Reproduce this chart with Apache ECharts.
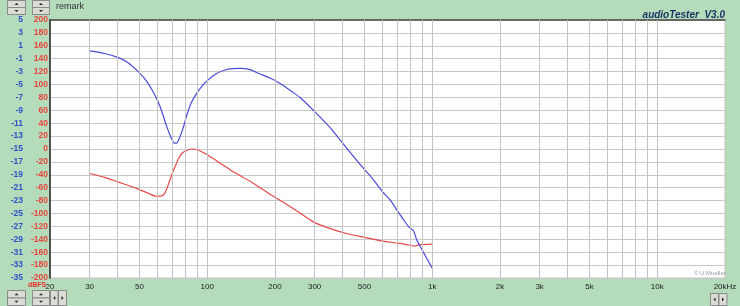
<!DOCTYPE html>
<html><head><meta charset="utf-8">
<script src="https://cdn.jsdelivr.net/npm/echarts@6/dist/echarts.min.js"></script>
<style>html,body{margin:0;padding:0;background:#b4dcbb;}#c{width:740px;height:306px;}</style>
</head><body><div id="c"></div>
<script>
// Blue curve (dB, left blue scale)
const blueFreq = [30,35,40,44,50,54,58,62,66,69,71.5,73,75,78,81,85,90,95,100,110,120,130,140,155,170,190,210,240,260,300,350,400,450,500,540,600,650,700,750,783,800,824,840,853,900,950,1000];
const blueDb   = [0.2,-0.2,-0.8,-1.5,-3.2,-4.6,-6.4,-8.6,-11.5,-13.2,-14.1,-14.1,-13.4,-11.8,-9.8,-7.8,-6.3,-5.2,-4.4,-3.3,-2.75,-2.55,-2.5,-2.7,-3.3,-4.0,-4.8,-6.2,-7.1,-9.2,-11.6,-14.1,-16.3,-18.2,-19.5,-21.6,-22.9,-24.6,-26.1,-27.0,-27.3,-27.6,-28.4,-29.1,-30.6,-32.1,-33.5];
// Red curve (red scale)
const redFreq = [30,35,40,45,50,55,59,62,64,65.5,67,69.5,72,74.5,77,80,85,91,100,112,130,157,190,221,250,296,350,416,500,586,700,780,838,860,882,1000];
const redVals = [-38,-44,-51,-57,-63,-69,-73,-73,-71,-65,-56,-40,-27,-15,-7,-3,0,-1.5,-9,-20,-35,-51,-70,-84,-96,-113,-123,-131,-137,-142,-146,-148.5,-150.5,-149,-148.4,-147.5];
// Vertical grid lines and frequency labels
const gridFreqs = [30,40,50,60,70,80,90,100,200,300,400,500,600,700,800,900,1000,2000,3000,4000,5000,6000,7000,8000,9000,10000];
const labelFreqs = [20,30,50,100,200,300,500,1000,2000,3000,5000,10000,20000];
const labelTexts = ['20','30','50','100','200','300','500','1k','2k','3k','5k','10k','20kHz'];

const chart = echarts.init(document.getElementById('c'));
const FONT = '"Liberation Sans", Arial, sans-serif';

const markData = gridFreqs.map(f => ({xAxis: f}));

function btn(x, y, w, h, dir) {
  const cx = x + w / 2, cy = y + h / 2;
  let pts;
  if (dir === 'up') pts = [[cx - 2, cy + 1], [cx + 2, cy + 1], [cx, cy - 1]];
  else if (dir === 'down') pts = [[cx - 2, cy - 1], [cx + 2, cy - 1], [cx, cy + 1]];
  else if (dir === 'left') pts = [[cx + 1, cy - 2], [cx + 1, cy + 2], [cx - 1, cy]];
  else pts = [[cx - 1, cy - 2], [cx - 1, cy + 2], [cx + 1, cy]];
  return [
    {type: 'rect', shape: {x: x, y: y, width: w, height: h}, style: {fill: '#dcdcd6', stroke: '#8a8a8a', lineWidth: 1}},
    {type: 'polygon', shape: {points: pts}, style: {fill: '#222'}}
  ];
}
const graphics = [].concat(
  btn(7.5, 0.5, 18, 7, 'up'), btn(7.5, 7.5, 18, 7, 'down'),
  btn(32.5, 0.5, 17, 7, 'up'), btn(32.5, 7.5, 17, 7, 'down'),
  btn(7.5, 290.5, 18, 7.5, 'up'), btn(7.5, 298, 18, 7.5, 'down'),
  btn(32.5, 290.5, 17, 7.5, 'up'), btn(32.5, 298, 17, 7.5, 'down'),
  btn(50.5, 290.5, 7.5, 15, 'left'), btn(58.5, 290.5, 8, 15, 'right'),
  btn(710.5, 293.5, 8, 12, 'left'), btn(719, 293.5, 8, 12, 'right'),
  [
    {type: 'text', left: 56, top: 2, style: {text: 'remark', fill: '#333', font: '9px ' + FONT}},
    {type: 'text', left: 28, top: 282, style: {text: 'dBFS', fill: '#e8302c', font: 'bold 7px ' + FONT}},
    {type: 'text', left: 694, top: 270, style: {text: '\u00a9 U.Mueller', fill: '#9a9a9a', font: '6px ' + FONT}}
  ]
);

chart.setOption({
  backgroundColor: '#b4dcbb',
  animation: false,
  title: {text: 'audioTester  V3.0', right: 10, top: 5,
    textStyle: {color: '#1e3264', fontSize: 10, fontStyle: 'italic', fontWeight: 'bold', fontFamily: FONT}},
  grid: {left: 50, right: 15, top: 20, bottom: 28, show: true, backgroundColor: '#ffffff', borderColor: '#c4c4c4', borderWidth: 1},
  xAxis: [
    {type: 'log', logBase: 10, min: 20, max: 20000, axisLine: {show: false, onZero: false}, axisTick: {show: false},
      axisLabel: {show: true, customValues: labelFreqs, showMinLabel: true, showMaxLabel: true, margin: 5,
        color: '#222', fontSize: 8, fontFamily: FONT,
        formatter: v => { const i = labelFreqs.findIndex(f => Math.abs(f - v) / f < 1e-6); return i >= 0 ? labelTexts[i] : ''; }},
      splitLine: {show: false}},
    {type: 'log', logBase: 10, min: 20, max: 20000, position: 'top', axisLine: {show: true, onZero: false, lineStyle: {color: '#454545', width: 1.5}}, axisTick: {show: false}, axisLabel: {show: false}, splitLine: {show: false}}
  ],
  yAxis: [
    {type: 'value', min: -200, max: 200, interval: 20, position: 'left',
      axisLine: {show: true, onZero: false, lineStyle: {color: '#505050', width: 2}}, axisTick: {show: false},
      axisLabel: {color: '#e8463c', fontSize: 8.5, fontWeight: 'bold', margin: 2, fontFamily: FONT},
      splitLine: {show: true, lineStyle: {color: '#c8c8c8', width: 1}}},
    {type: 'value', min: -35, max: 5, interval: 2, position: 'left', offset: 25,
      axisLine: {show: false, onZero: false}, axisTick: {show: false},
      axisLabel: {color: '#2f52c8', fontSize: 8.5, fontWeight: 'bold', margin: 2, fontFamily: FONT},
      splitLine: {show: false}}
  ],
  graphic: graphics,
  series: [
    {type: 'line', name: 'red', xAxisIndex: 0, yAxisIndex: 0, symbol: 'none', smooth: 0.2,
      data: redFreq.map((f, i) => [f, redVals[i]]),
      lineStyle: {color: '#e84848', width: 1.2}, z: 3,
      markLine: {silent: true, symbol: 'none', animation: false,
        lineStyle: {color: '#c4c4c4', type: 'solid', width: 1},
        label: {show: false},
        emphasis: {disabled: true},
        data: markData}},
    {type: 'line', name: 'blue', xAxisIndex: 0, yAxisIndex: 1, symbol: 'none', smooth: 0.2,
      data: blueFreq.map((f, i) => [f, blueDb[i]]),
      lineStyle: {color: '#4b4bd8', width: 1.2}, z: 4}
  ]
});
</script></body></html>
